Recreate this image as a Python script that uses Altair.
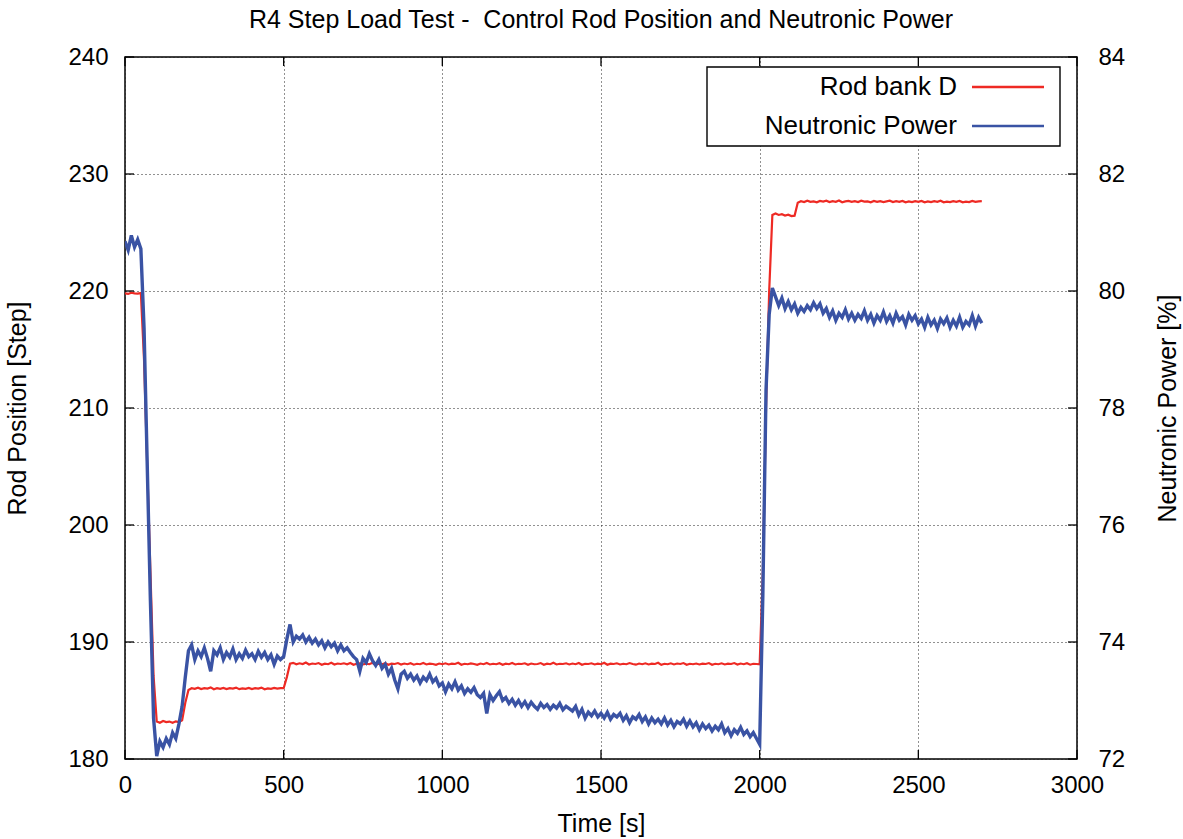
import altair as alt
import pandas as pd

# ---------------- data ----------------
series_names = ["Rod bank D", "Neutronic Power"]
series_colors = ["#ee2a24", "#3a53a4"]

# Rod bank D position [step], sampled every 10 s from 0 s to 2700 s
rod = [
    219.80, 219.75, 219.85, 219.80, 219.78, 219.82, 214.10, 205.10, 196.10, 187.10,  # 0
    183.20, 183.10, 183.25, 183.15, 183.20, 183.10, 183.22, 183.15, 183.30, 184.80,  # 100
    185.90, 186.05, 186.00, 186.10, 185.98, 186.06, 186.02, 186.12, 185.96, 186.05,  # 200
    186.00, 186.08, 185.98, 186.06, 186.02, 186.10, 185.97, 186.04, 186.00, 186.08,  # 300
    185.98, 186.05, 186.02, 186.10, 185.96, 186.04, 186.00, 186.08, 186.02, 186.06,  # 400
    186.05, 187.00, 188.15, 188.22, 188.10, 188.18, 188.12, 188.25, 188.08, 188.16,  # 500
    188.12, 188.20, 188.06, 188.15, 188.10, 188.22, 188.08, 188.16, 188.12, 188.18,  # 600
    188.10, 188.20, 188.05, 188.14, 188.18, 188.08, 188.15, 188.10, 188.22, 188.06,  # 700
    188.14, 188.10, 188.18, 188.05, 188.15, 188.12, 188.20, 188.08, 188.16, 188.10,  # 800
    188.18, 188.06, 188.14, 188.10, 188.20, 188.08, 188.15, 188.12, 188.05, 188.16,  # 900
    188.10, 188.18, 188.08, 188.15, 188.12, 188.22, 188.06, 188.14, 188.10, 188.17,  # 1000
    188.12, 188.05, 188.16, 188.10, 188.20, 188.08, 188.14, 188.10, 188.18, 188.06,  # 1100
    188.15, 188.10, 188.20, 188.08, 188.14, 188.12, 188.18, 188.05, 188.16, 188.10,  # 1200
    188.12, 188.20, 188.06, 188.15, 188.10, 188.22, 188.08, 188.14, 188.12, 188.18,  # 1300
    188.08, 188.16, 188.10, 188.20, 188.05, 188.14, 188.12, 188.18, 188.08, 188.15,  # 1400
    188.10, 188.22, 188.06, 188.15, 188.12, 188.18, 188.08, 188.14, 188.10, 188.20,  # 1500
    188.12, 188.06, 188.16, 188.10, 188.18, 188.08, 188.15, 188.12, 188.22, 188.05,  # 1600
    188.14, 188.10, 188.18, 188.08, 188.16, 188.12, 188.20, 188.06, 188.14, 188.10,  # 1700
    188.16, 188.08, 188.15, 188.12, 188.20, 188.06, 188.14, 188.10, 188.18, 188.08,  # 1800
    188.15, 188.12, 188.20, 188.08, 188.16, 188.10, 188.18, 188.06, 188.14, 188.12,  # 1900
    188.10, 196.00, 210.00, 220.00, 226.50, 226.62, 226.50, 226.56, 226.45, 226.52,  # 2000
    226.40, 226.44, 227.55, 227.68, 227.60, 227.72, 227.62, 227.66, 227.58, 227.70,  # 2100
    227.64, 227.72, 227.60, 227.68, 227.62, 227.74, 227.58, 227.66, 227.70, 227.62,  # 2200
    227.68, 227.60, 227.72, 227.64, 227.66, 227.58, 227.70, 227.62, 227.68, 227.60,  # 2300
    227.66, 227.72, 227.60, 227.68, 227.62, 227.70, 227.58, 227.65, 227.60, 227.68,  # 2400
    227.62, 227.70, 227.58, 227.66, 227.60, 227.68, 227.62, 227.72, 227.58, 227.64,  # 2500
    227.60, 227.68, 227.62, 227.70, 227.58, 227.64, 227.60, 227.70, 227.62, 227.66,  # 2600
    227.68,                                                                          # 2700
]

# Neutronic power [%], same sampling
power = [
    80.85, 80.70, 80.95, 80.75, 80.88, 80.72, 79.37, 77.04, 74.72, 72.70,  # 0
    72.05, 72.30, 72.20, 72.35, 72.25, 72.45, 72.35, 72.60, 72.90, 73.40,  # 100
    73.85, 73.95, 73.70, 73.85, 73.75, 73.90, 73.72, 73.50, 73.85, 73.78,  # 200
    73.90, 73.70, 73.82, 73.74, 73.88, 73.70, 73.80, 73.72, 73.86, 73.75,  # 300
    73.80, 73.70, 73.84, 73.74, 73.82, 73.70, 73.78, 73.62, 73.76, 73.70,  # 400
    73.75, 74.05, 74.30, 74.00, 74.10, 74.05, 74.12, 74.00, 74.08, 73.98,  # 500
    74.05, 73.95, 74.02, 73.90, 74.00, 73.92, 73.98, 73.85, 73.95, 73.85,  # 600
    73.90, 73.82, 73.75, 73.70, 73.50, 73.72, 73.65, 73.80, 73.68, 73.60,  # 700
    73.70, 73.55, 73.62, 73.45, 73.55, 73.35, 73.20, 73.45, 73.50, 73.38,  # 800
    73.45, 73.35, 73.42, 73.30, 73.40, 73.34, 73.45, 73.32, 73.38, 73.25,  # 900
    73.30, 73.15, 73.28, 73.20, 73.32, 73.18, 73.25, 73.12, 73.20, 73.14,  # 1000
    73.22, 73.10, 73.05, 73.12, 72.78, 73.10, 73.00, 73.08, 73.15, 73.00,  # 1100
    73.05, 72.95, 73.02, 72.92, 73.00, 72.90, 72.98, 72.88, 72.97, 72.90,  # 1200
    72.85, 72.95, 72.88, 72.93, 72.85, 72.92, 72.87, 72.95, 72.84, 72.90,  # 1300
    72.86, 72.82, 72.90, 72.75, 72.85, 72.70, 72.80, 72.74, 72.82, 72.72,  # 1400
    72.78, 72.70, 72.80, 72.68, 72.76, 72.72, 72.78, 72.66, 72.74, 72.62,  # 1500
    72.72, 72.68, 72.76, 72.64, 72.72, 72.60, 72.70, 72.62, 72.68, 72.60,  # 1600
    72.70, 72.58, 72.66, 72.55, 72.64, 72.60, 72.68, 72.56, 72.65, 72.55,  # 1700
    72.62, 72.50, 72.60, 72.52, 72.58, 72.48, 72.56, 72.50, 72.60, 72.45,  # 1800
    72.52, 72.40, 72.50, 72.44, 72.54, 72.42, 72.48, 72.38, 72.45, 72.35,  # 1900
    72.25, 74.80, 78.30, 79.60, 80.05, 79.90, 79.75, 79.88, 79.70, 79.82,  # 2000
    79.68, 79.78, 79.62, 79.72, 79.65, 79.75, 79.68, 79.80, 79.70, 79.78,  # 2100
    79.62, 79.70, 79.55, 79.66, 79.50, 79.62, 79.55, 79.68, 79.52, 79.62,  # 2200
    79.50, 79.60, 79.53, 79.66, 79.50, 79.60, 79.45, 79.58, 79.50, 79.64,  # 2300
    79.48, 79.58, 79.45, 79.62, 79.50, 79.56, 79.42, 79.60, 79.50, 79.58,  # 2400
    79.44, 79.52, 79.38, 79.55, 79.42, 79.50, 79.36, 79.52, 79.44, 79.54,  # 2500
    79.38, 79.50, 79.40, 79.55, 79.38, 79.48, 79.42, 79.58, 79.40, 79.55,  # 2600
    79.45,                                                                 # 2700
]

time_s = [i * 10 for i in range(len(rod))]  # 10 s sampling grid

x_ticks = [0, 500, 1000, 1500, 2000, 2500, 3000]
rod_ticks = [180, 190, 200, 210, 220, 230, 240]
power_ticks = [72, 74, 76, 78, 80, 82, 84]

title_text = "R4 Step Load Test - \u00a0Control Rod Position and Neutronic Power"

# ---------------- chart ----------------
W, H = 952, 702
FONT = "Liberation Sans"

df = pd.DataFrame({"t": time_s, "rod": rod, "power": power})
color_scale = alt.Scale(domain=series_names, range=series_colors)

x_axis = alt.Axis(values=x_ticks, title="Time [s]", grid=True, gridDash=[1, 3],
                  gridColor="#222222", gridWidth=1, domain=False, ticks=False, tickSize=0,
                  labelPadding=14, labelFontSize=24, titleFontSize=25, labelFlush=False,
                  titleFontWeight="normal", titleY=64, titleBaseline="middle",
                  format="d")
x_enc = alt.X("t:Q", scale=alt.Scale(domain=[0, 3000], nice=False, zero=False), axis=x_axis)

rod_scale = alt.Scale(domain=[180, 240], nice=False, zero=False)
power_scale = alt.Scale(domain=[72, 84], nice=False, zero=False)

rod_line = alt.Chart(df).transform_calculate(series="'Rod bank D'").mark_line(
    strokeWidth=2.2, clip=True
).encode(
    x=x_enc,
    y=alt.Y("rod:Q", scale=rod_scale,
            axis=alt.Axis(orient="left", values=rod_ticks, title="Rod Position [Step]",
                          grid=True, gridDash=[1, 3], gridColor="#222222", gridWidth=1,
                          domain=False, ticks=False, tickSize=0, labelPadding=17,
                          labelFontSize=24, titleFontSize=25, titleFontWeight="normal",
                          labelFlush=False,
                          titleAngle=270, titleX=-108, titleY=H / 2,
                          titleBaseline="middle", titleAlign="center")),
    color=alt.Color("series:N", scale=color_scale, legend=None),
)

power_line = alt.Chart(df).transform_calculate(series="'Neutronic Power'").mark_line(
    strokeWidth=3.4, clip=True
).encode(
    x=x_enc,
    y=alt.Y("power:Q", scale=power_scale,
            axis=alt.Axis(orient="right", values=power_ticks, title="Neutronic Power [%]",
                          grid=False, domain=False, ticks=False, tickSize=0,
                          labelPadding=21, labelFontSize=24, titleFontSize=25,
                          labelFlush=False,
                          titleFontWeight="normal", titleAngle=270, titleX=90,
                          titleY=H / 2, titleBaseline="middle", titleAlign="center")),
    color=alt.Color("series:N", scale=color_scale, legend=None),
)

# inward tick marks (gnuplot style)
xt = pd.DataFrame({"t": x_ticks})
yt = pd.DataFrame({"v": rod_ticks})
tick_style = dict(color="black", strokeWidth=1.3)
y_tick_enc = alt.Y("v:Q", scale=rod_scale, axis=None)

ticks_left = alt.Chart(yt).mark_rule(**tick_style).encode(
    y=y_tick_enc, x=alt.value(0), x2=alt.value(9))
ticks_right = alt.Chart(yt).mark_rule(**tick_style).encode(
    y=y_tick_enc, x=alt.value(W - 9), x2=alt.value(W))
ticks_bottom = alt.Chart(xt).mark_rule(**tick_style).encode(
    x=x_enc, y=alt.value(H - 9), y2=alt.value(H))
ticks_top = alt.Chart(xt).mark_rule(**tick_style).encode(
    x=x_enc, y=alt.value(0), y2=alt.value(9))

# legend box (gnuplot style: label on the left, line sample on the right)
leg_df = pd.DataFrame({"label": series_names, "row": [0, 1]})
row_scale = alt.Scale(domain=[0, 1], range=[30, 69], nice=False, zero=False)

leg_box = alt.Chart(pd.DataFrame({"label": ["box"]})).mark_rect(
    fill="white", stroke="black", strokeWidth=1.4
).encode(x=alt.value(582), x2=alt.value(935), y=alt.value(10), y2=alt.value(89))

leg_text = alt.Chart(leg_df).mark_text(
    align="right", baseline="middle", fontSize=26, font=FONT, color="black"
).encode(
    x=alt.value(832),
    y=alt.Y("row:Q", scale=row_scale, axis=None),
    text="label:N",
)

leg_lines = alt.Chart(leg_df).mark_rule(strokeWidth=2.6).encode(
    x=alt.value(847), x2=alt.value(919),
    y=alt.Y("row:Q", scale=row_scale, axis=None),
    color=alt.Color("label:N", scale=color_scale, legend=None),
)

chart = alt.layer(
    rod_line, power_line,
    ticks_left, ticks_right, ticks_bottom, ticks_top,
    leg_box, leg_text, leg_lines,
).resolve_scale(
    y="independent"
).properties(
    width=W,
    height=H,
    autosize=alt.AutoSizeParams(type="none"),
    padding={"left": 125, "top": 57, "right": 106, "bottom": 80},
    title=alt.TitleParams(title_text, fontSize=25, font=FONT, fontWeight="normal",
                          color="black", anchor="middle", offset=12),
).configure(
    background="white",
    font=FONT,
).configure_view(
    stroke="black", strokeWidth=1.5
).configure_axis(
    labelFont=FONT, titleFont=FONT, labelColor="black", titleColor="black",
)

chart.save("out.html", embed_options={"renderer": "svg", "actions": False})
